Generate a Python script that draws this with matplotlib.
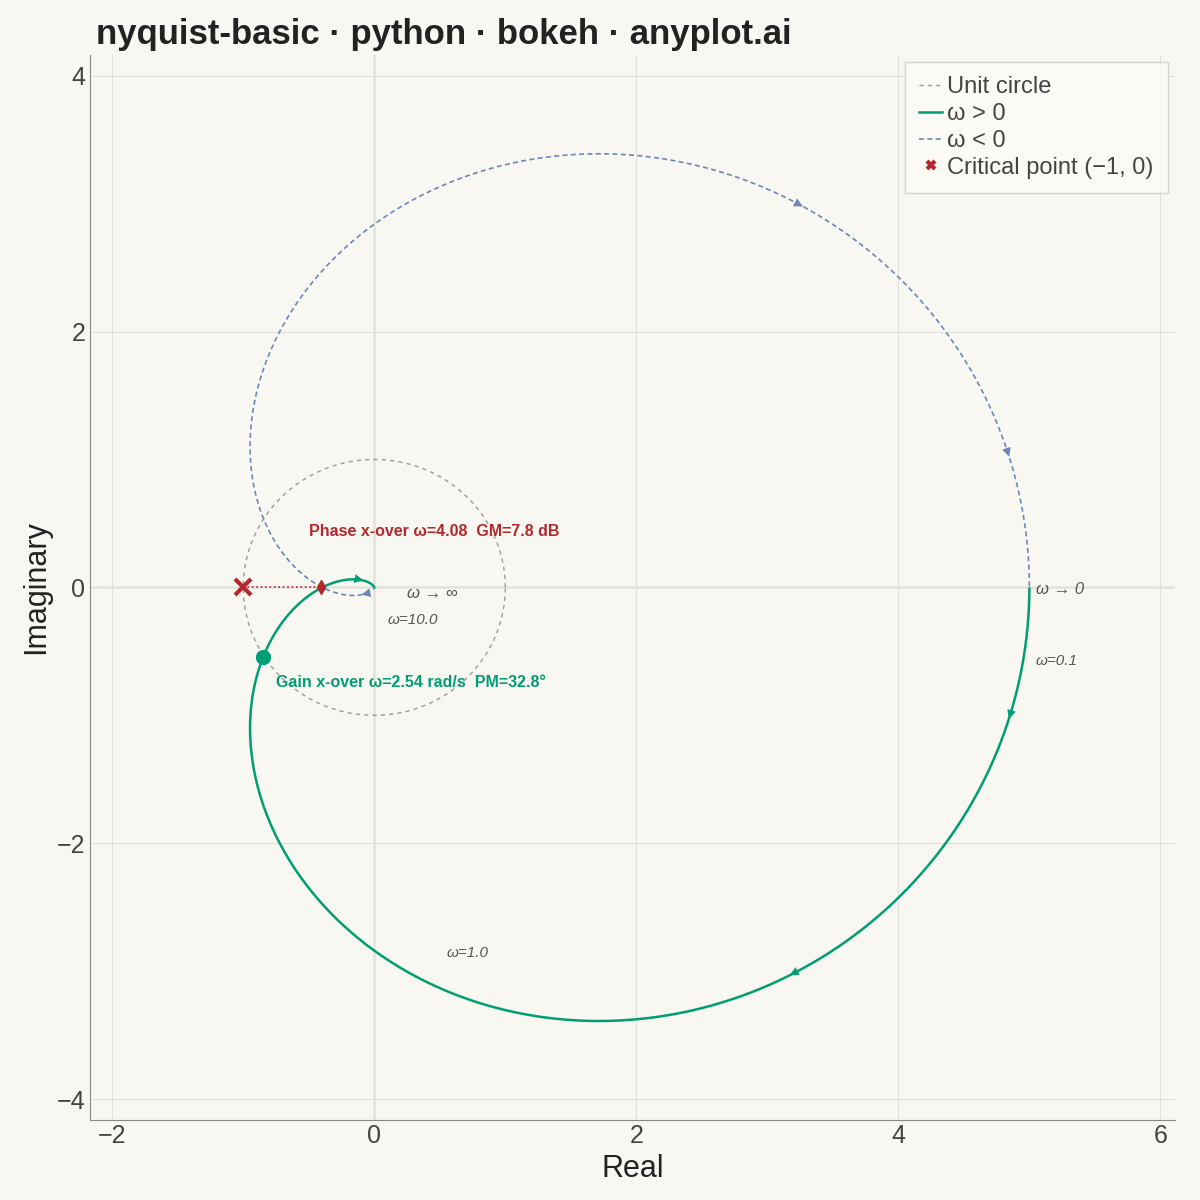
import numpy as np
import matplotlib
matplotlib.use("Agg")
import matplotlib.pyplot as plt

plt.rcParams['font.family'] = ['Liberation Sans', 'DejaVu Sans']

# Transfer function G(s) = K / ((s+1)(0.5s+1)(0.2s+1))
gain_k = 5.0
time_consts = [1.0, 0.5, 0.2]
arrow_omegas = [0.12, 0.45, 7.0]
label_omegas = [0.1, 1.0, 10.0]
label_pos = [(5.05, -0.52), (0.55, -2.8), (0.1, -0.2)]
wc_gain, pm = 2.54, 32.8
wc_phase, gm_db = 4.08, 7.8

def G(w):
    s = 1j * w
    d = np.ones_like(s)
    for t in time_consts:
        d = d * (t * s + 1)
    return gain_k / d

w = np.logspace(-3, 3, 3000)
g = G(w)

bg = "#f9f7f1"
green = "#009e73"
blue = "#6b86b8"
red = "#b3282d"
fig, ax = plt.subplots(figsize=(12, 12), dpi=100)
fig.patch.set_facecolor(bg)
ax.set_facecolor(bg)
fig.subplots_adjust(left=0.075, right=0.979, top=0.954, bottom=0.067)

th = np.linspace(0, 2 * np.pi, 400)
ax.plot(np.cos(th), np.sin(th), ls=(0, (3, 3)), color="#a09a90", lw=1, label="Unit circle")
ax.plot(g.real, g.imag, color=green, lw=1.8, label="ω > 0")
ax.plot(g.real, -g.imag, color=blue, lw=1.2, ls=(0, (3, 2)), label="ω < 0")
ax.axhline(0, color="#b0b0b0", lw=1, zorder=0)
ax.axvline(0, color="#b0b0b0", lw=1, zorder=0)

for wa in arrow_omegas:
    p0, p1 = G(np.array([wa]))[0], G(np.array([wa * 1.05]))[0]
    ax.annotate("", xy=(p1.real, p1.imag), xytext=(p0.real, p0.imag),
                arrowprops=dict(arrowstyle="-|>", color=green, lw=0, mutation_scale=16))
    ax.annotate("", xy=(p0.real, -p0.imag), xytext=(p1.real, -p1.imag),
                arrowprops=dict(arrowstyle="-|>", color=blue, lw=0, mutation_scale=16))

for wl, (tx, ty) in zip(label_omegas, label_pos):
    ax.text(tx, ty, f"ω={wl}", fontsize=11, style="italic", color="#555", va="top")
ax.text(5.05, -0.05, "ω → 0", fontsize=12, style="italic", color="#555")
ax.text(0.25, -0.08, "ω → ∞", fontsize=12, style="italic", color="#555")

pg = G(np.array([wc_gain]))[0]
ax.plot(pg.real, pg.imag, "o", color=green, ms=10)
ax.text(-0.75, -0.78, f"Gain x-over ω={wc_gain} rad/s  PM={pm}°", color=green, fontsize=11.5, weight="bold")
pp = G(np.array([wc_phase]))[0]
ax.plot([-1, pp.real], [0, 0], ls=":", color=red, lw=1.2)
ax.plot(pp.real, 0, "d", color=red, ms=7)
ax.text(-0.5, 0.4, f"Phase x-over ω={wc_phase}  GM={gm_db} dB", color=red, fontsize=11.5, weight="bold")
ax.plot(-1, 0, "x", color=red, ms=12, mew=3, ls="none", label="Critical point (−1, 0)")

ax.set_xlim(-2.17, 6.11)
ax.set_ylim(-4.16, 4.16)
ax.set_xticks([-2, 0, 2, 4, 6])
ax.set_yticks([-4, -2, 0, 2, 4])
ax.set_xticklabels(["−2", "0", "2", "4", "6"])
ax.set_yticklabels(["−4", "−2", "0", "2", "4"])
ax.tick_params(labelsize=18, colors="#444", length=0)
ax.grid(color="#e2e0da", lw=0.8)
for s in ["top", "right"]:
    ax.spines[s].set_visible(False)
for s in ["left", "bottom"]:
    ax.spines[s].set_color("#888")
ax.set_xlabel("Real", fontsize=22, color="#222")
ax.set_ylabel("Imaginary", fontsize=22, color="#222")
leg = ax.legend(loc="upper right", fontsize=17, frameon=True, handlelength=1, handletextpad=0.2,
                borderaxespad=0.6, borderpad=0.3, labelspacing=0.2, markerscale=0.5)
for t in leg.get_texts():
    t.set_color("#444")
leg.get_frame().set_facecolor("#fdfcf7")
leg.get_frame().set_edgecolor("#cccccc")
leg.get_frame().set_boxstyle("square")
fig.text(0.08, 0.985, "nyquist-basic · python · bokeh · anyplot.ai", fontsize=25, weight="bold",
         color="#222", va="top")
fig.savefig("out.png", dpi=100, facecolor=bg)
